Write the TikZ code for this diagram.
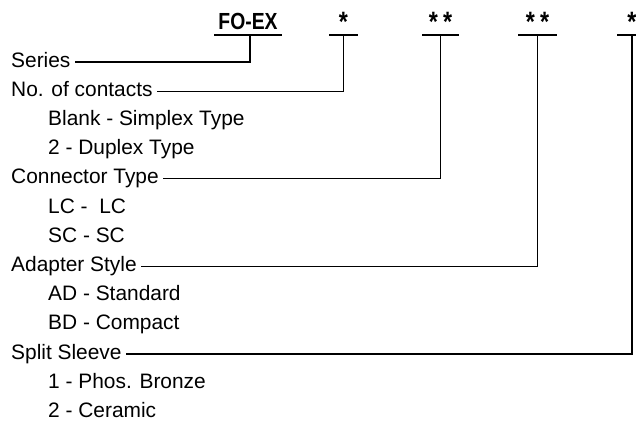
\documentclass[tikz,border=0pt]{standalone}
\usepackage{fontspec}
\setmainfont{Liberation Sans}
\newfontfamily\headfont{Liberation Sans}[FakeStretch=0.83]
\usetikzlibrary{calc}
\begin{document}
\begin{tikzpicture}[x=1pt,y=-1pt,
  lbl/.style={anchor=base west,inner sep=0pt,font=\fontsize{20.9}{25}\selectfont},
  hd/.style={anchor=base,inner sep=0pt,font=\headfont\bfseries\fontsize{23.3}{28}\selectfont},
  star/.style={anchor=base,inner sep=0pt,font=\headfont\bfseries\fontsize{28}{32}\selectfont},
  conn/.style={line width=1.3pt,line cap=rect},
  barline/.style={line width=2.4pt}]
\useasboundingbox (0,0) rectangle (636,424);
\clip (0,0) rectangle (636,424);
% header
\node[hd] (fo) at (248,29.3) {FO-EX};
\node[star] (s1) at (343.5,31) {*};
\node[star] (s2) at (440.5,31) {*\hspace{5pt}*};
\node[star] (s3) at (537.5,31) {*\hspace{5pt}*};
\node[star] (s4) at (632,31) {*};
\coordinate (t0) at (250,35);
\coordinate (t1) at (343.5,35);
\coordinate (t2) at (440.5,35);
\coordinate (t3) at (537.5,35);
\coordinate (t4) at (632,35);
\draw[barline] (214,35) -- (282,35);
\draw[barline] (329,35) -- (358,35);
\draw[barline] (422,35) -- (459,35);
\draw[barline] (518,35) -- (557,35);
\draw[barline] (617,35) -- (647,35);
% labels
\node[lbl] (series) at (11,67) {Series};
\node[lbl] (contacts) at (11,96.2) {No. of contacts};
\node[lbl] (blank) at (48,125.4) {Blank - Simplex Type};
\node[lbl] (duplex) at (48,154.6) {2 - Duplex Type};
\node[lbl] (ctype) at (11,183.8) {Connector Type};
\node[lbl] (lc) at (48,213) {LC -\ \ LC};
\node[lbl] (sc) at (48,242.2) {SC - SC};
\node[lbl] (adapter) at (11,271.4) {Adapter Style};
\node[lbl] (ad) at (48,300.6) {AD - Standard};
\node[lbl] (bd) at (48,329.8) {BD - Compact};
\node[lbl] (split) at (11,359) {Split Sleeve};
\node[lbl] (phos) at (48,388.2) {1 - Phos. Bronze};
\node[lbl] (ceramic) at (48,417.4) {2 - Ceramic};
% connectors
\coordinate (e0) at ($(series.base east)+(5,-5)$);
\coordinate (e1) at ($(contacts.base east)+(5,-5)$);
\coordinate (e2) at ($(ctype.base east)+(5,-5)$);
\coordinate (e3) at ($(adapter.base east)+(5,-5)$);
\coordinate (e4) at ($(split.base east)+(5,-5)$);
\draw[conn] (t0) |- (e0);
\draw[conn] (t1) |- (e1);
\draw[conn] (t2) |- (e2);
\draw[conn] (t3) |- (e3);
\draw[conn] (t4) |- (e4);
\end{tikzpicture}
\end{document}
